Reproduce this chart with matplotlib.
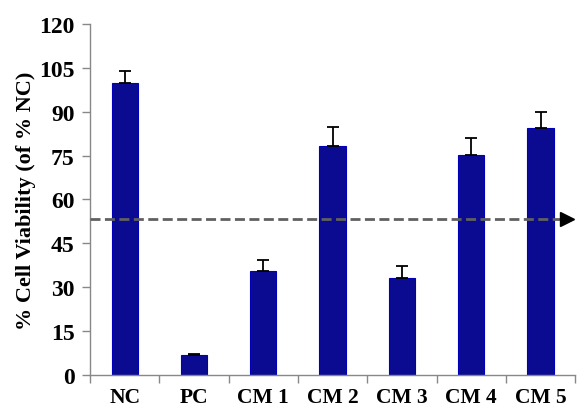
import numpy as np
import matplotlib
matplotlib.use("Agg")
import matplotlib.pyplot as plt

# data
labels = ["NC", "PC", "CM 1", "CM 2", "CM 3", "CM 4", "CM 5"]
viability = [100.0, 6.8, 35.7, 78.4, 33.0, 75.2, 84.3]
errors = [4.0, 0.5, 3.6, 6.3, 4.1, 5.7, 5.7]
threshold = 53.3

plt.rcParams['font.family'] = ['Liberation Serif', 'DejaVu Serif']
plt.rcParams['font.weight'] = 'bold'

fig = plt.figure(figsize=(5.81, 4.10), dpi=100)
ax = fig.add_axes([0.155, 0.083, 0.835, 0.856])

x = np.arange(len(labels))
ax.bar(x, viability, width=0.38, color='#0b0b92', edgecolor='#0000b8', linewidth=0.8, zorder=2)
ax.errorbar(x, viability, yerr=[np.zeros(len(errors)), errors], fmt='none',
            ecolor='black', elinewidth=1.3, capsize=4.5, capthick=1.3, zorder=3)

# dashed threshold line with arrow head
ax.plot([-0.5, 6.28], [threshold, threshold], linestyle=(0, (3.6, 1.6)), color='#606060',
        linewidth=2, zorder=4, clip_on=False)
ax.plot([6.38], [threshold], marker='>', markersize=10, color='black', zorder=5, clip_on=False)

ax.set_xlim(-0.5, 6.5)
ax.set_ylim(0, 120)
ax.set_yticks(np.arange(0, 121, 15))
ax.set_xticks(np.arange(-0.5, 6.6, 1))
ax.set_xticklabels([])
ax.set_xticks(x, minor=True)
ax.set_xticklabels(labels, minor=True)
ax.tick_params(axis='x', which='minor', length=0, pad=9, labelsize=15.5)
ax.tick_params(axis='x', which='major', length=6, color='#888888', width=1)
ax.tick_params(axis='y', length=6, color='#888888', width=1, labelsize=17, pad=5)

for s in ['top', 'right']:
    ax.spines[s].set_visible(False)
for s in ['left', 'bottom']:
    ax.spines[s].set_color('#888888')
    ax.spines[s].set_linewidth(1)

ax.set_ylabel('% Cell Viability (of % NC)', fontsize=16, fontweight='bold', labelpad=2)

fig.savefig('out.png', dpi=100)
